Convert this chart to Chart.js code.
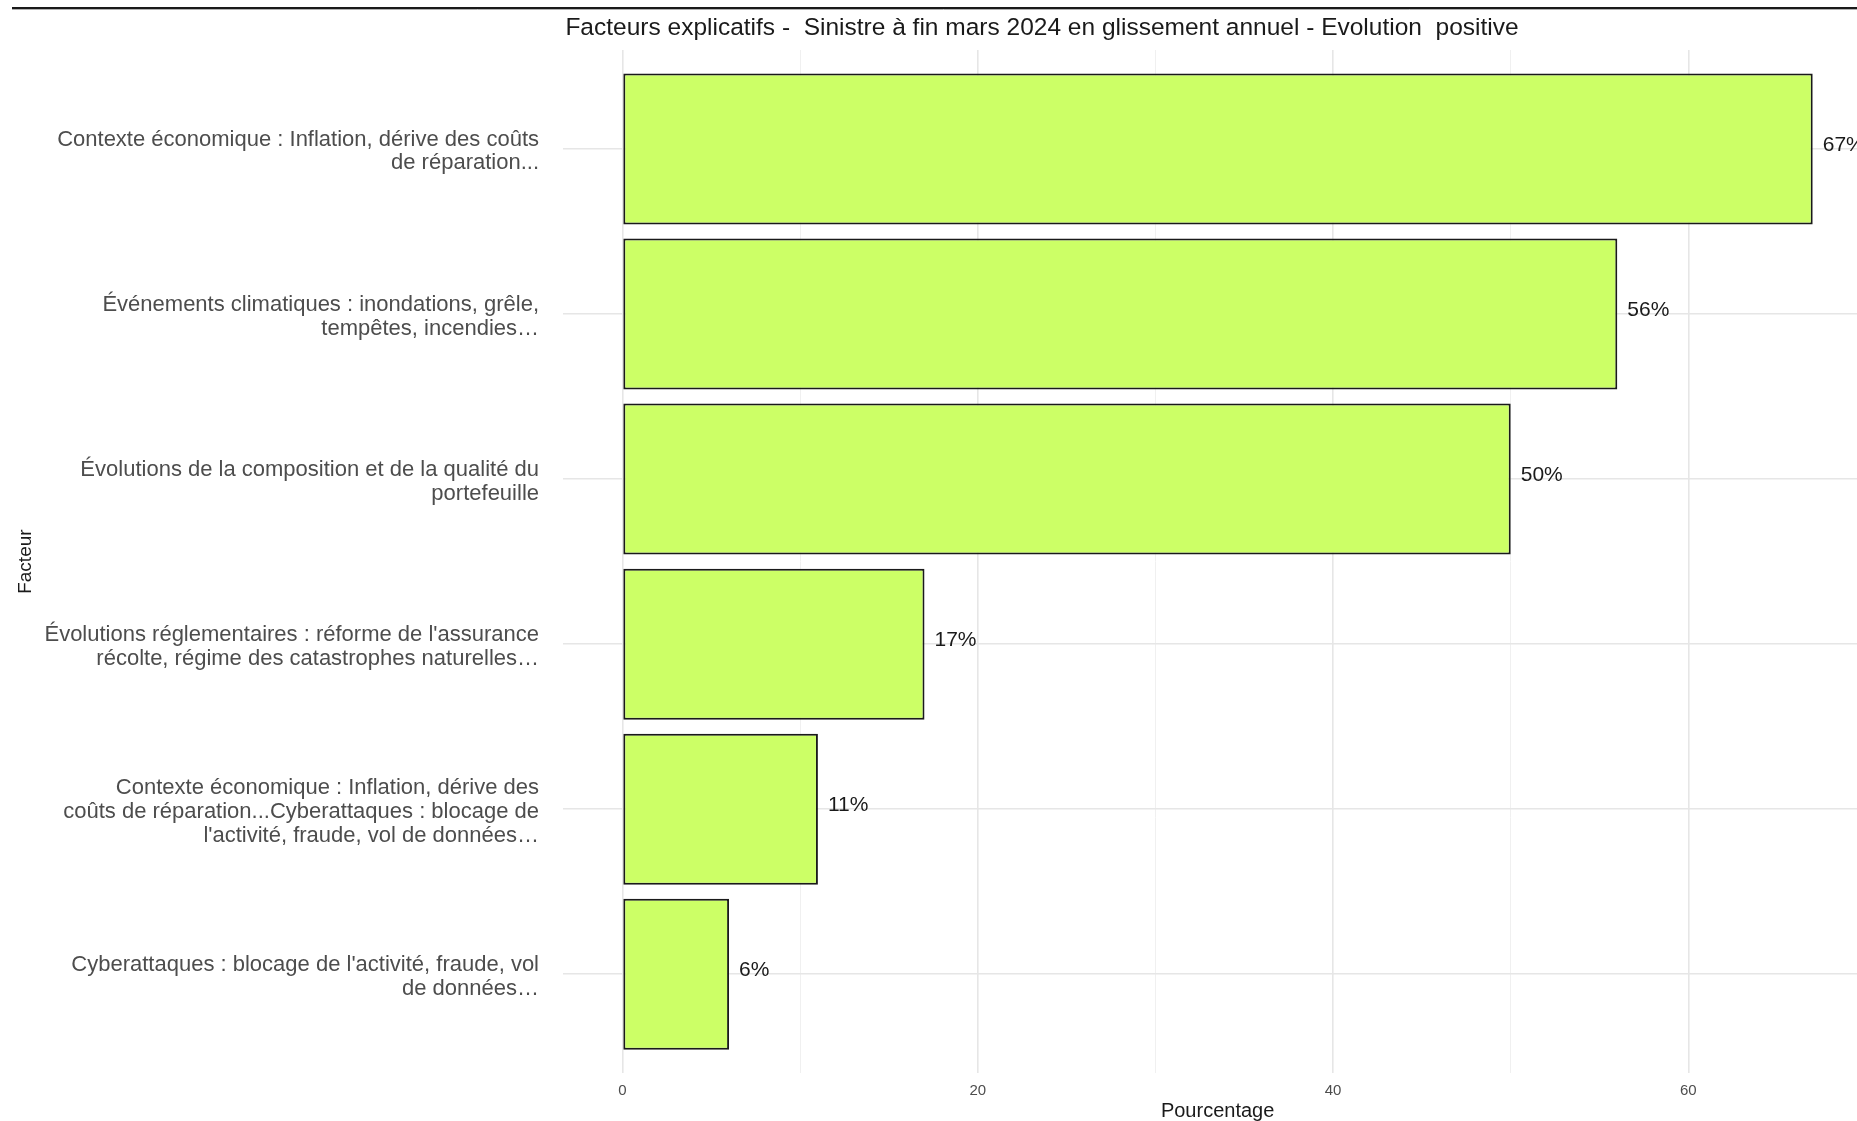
<!DOCTYPE html>
<html>
<head>
<meta charset="utf-8">
<script src="https://cdn.jsdelivr.net/npm/chart.js@4/dist/chart.umd.min.js"></script>
<style>
  body { margin: 0; background: #fff; overflow: hidden; }
</style>
</head>
<body>
<canvas id="factChart" width="1875" height="1121"></canvas>
<script>
// facteurs (de haut en bas)
var facteurs = [
    ["Contexte économique : Inflation, dérive des coûts", "de réparation..."],
    ["Événements climatiques : inondations, grêle,", "tempêtes, incendies…"],
    ["Évolutions de la composition et de la qualité du", "portefeuille"],
    ["Évolutions réglementaires : réforme de l'assurance", "récolte, régime des catastrophes naturelles…"],
    ["Contexte économique : Inflation, dérive des", "coûts de réparation...Cyberattaques : blocage de", "l'activité, fraude, vol de données…"],
    ["Cyberattaques : blocage de l'activité, fraude, vol", "de données…"]
];
var pourcentages = [67, 56, 50, 17, 11, 6];
var xTicks = [0, 20, 40, 60];
var xGrille = [0, 10, 20, 30, 40, 50, 60, 70];

var titre = "Facteurs explicatifs -  Sinistre à fin mars 2024 en glissement annuel - Evolution  positive";
var police = "'Liberation Sans', Arial, sans-serif";

// position 1..6 sur un axe lineaire pour garder la marge de 0.6 comme ggplot
var points = pourcentages.map(function(v, i) { return { x: v, y: i + 1 }; });

var extras = {
    id: 'extras',
    afterDatasetsDraw: function(chart) {
        var ctx = chart.ctx;
        var xs = chart.scales.x, ys = chart.scales.y;
        ctx.save();
        ctx.font = "21px " + police;
        ctx.fillStyle = "#1a1a1a";
        ctx.textAlign = "left";
        ctx.textBaseline = "middle";
        pourcentages.forEach(function(v, i) {
            ctx.fillText(v + "%", xs.getPixelForValue(v) + 10, ys.getPixelForValue(i + 1) - 4);
        });
        ctx.restore();
    },
    afterDraw: function(chart) {
        var ctx = chart.ctx;
        ctx.save();
        // trait en haut de la capture
        ctx.strokeStyle = "#1a1a1a";
        ctx.lineWidth = 2;
        ctx.beginPath();
        ctx.moveTo(12, 8);
        ctx.lineTo(1875, 8);
        ctx.stroke();
        ctx.strokeStyle = "#b0b0b0";
        ctx.lineWidth = 1;
        ctx.beginPath();
        ctx.moveTo(12, 9.5);
        ctx.lineTo(1875, 9.5);
        ctx.stroke();
        ctx.font = "24.5px " + police;
        ctx.fillStyle = "#1a1a1a";
        ctx.textAlign = "center";
        ctx.textBaseline = "middle";
        ctx.fillText(titre, 1042, 28);
        ctx.restore();
    }
};

var ctx = document.getElementById('factChart').getContext('2d');
var factChart = new Chart(ctx, {
    type: 'bar',
    data: {
        datasets: [{
            label: 'Pourcentage',
            data: points,
            backgroundColor: '#ccff66',
            borderColor: '#1a1a1a',
            borderWidth: 2,
            borderSkipped: false,
            barPercentage: 0.915,
            categoryPercentage: 1
        }]
    },
    plugins: [extras],
    options: {
        indexAxis: 'y',
        responsive: false,
        animation: false,
        devicePixelRatio: 1,
        layout: { padding: { top: 50, left: 0, right: 0, bottom: 0 } },
        plugins: {
            legend: { display: false },
            tooltip: { enabled: false }
        },
        scales: {
            x: {
                type: 'linear',
                min: -3.35,
                max: 70.35,
                bounds: 'data',
                afterBuildTicks: function(scale) {
                    scale.ticks = xGrille.map(function(v) { return { value: v }; });
                },
                afterFit: function(scale) { scale.height = 46; },
                border: { display: false },
                grid: {
                    drawTicks: false,
                    color: function(c) {
                        return xTicks.indexOf(c.tick.value) >= 0 ? '#e6e6e6' : '#f0f0f0';
                    },
                    lineWidth: function(c) {
                        return xTicks.indexOf(c.tick.value) >= 0 ? 1.6 : 1;
                    }
                },
                ticks: {
                    autoSkip: false,
                    maxRotation: 0,
                    padding: 9,
                    color: '#4d4d4d',
                    font: { family: police, size: 15 },
                    callback: function(v) { return xTicks.indexOf(v) >= 0 ? String(v) : ''; }
                },
                title: {
                    display: true,
                    text: 'Pourcentage',
                    color: '#1a1a1a',
                    padding: 0,
                    font: { family: police, size: 20, lineHeight: 0.8 }
                }
            },
            y: {
                type: 'linear',
                min: 0.4,
                max: 6.6,
                reverse: true,
                offset: false,
                bounds: 'data',
                afterBuildTicks: function(scale) {
                    scale.ticks = facteurs.map(function(f, i) { return { value: i + 1 }; });
                },
                afterFit: function(scale) { scale.width = 563; },
                border: { display: false },
                grid: {
                    offset: false,
                    drawTicks: false,
                    color: '#e6e6e6',
                    lineWidth: 1.6
                },
                ticks: {
                    autoSkip: false,
                    padding: 24,
                    labelOffset: 2.5,
                    color: '#4d4d4d',
                    font: { family: police, size: 22, lineHeight: 1.08 },
                    callback: function(v) { return facteurs[v - 1] || ''; }
                },
                title: {
                    display: true,
                    text: 'Facteur',
                    color: '#1a1a1a',
                    padding: 16,
                    font: { family: police, size: 19, lineHeight: 1 }
                }
            }
        }
    }
});
</script>
</body>
</html>
